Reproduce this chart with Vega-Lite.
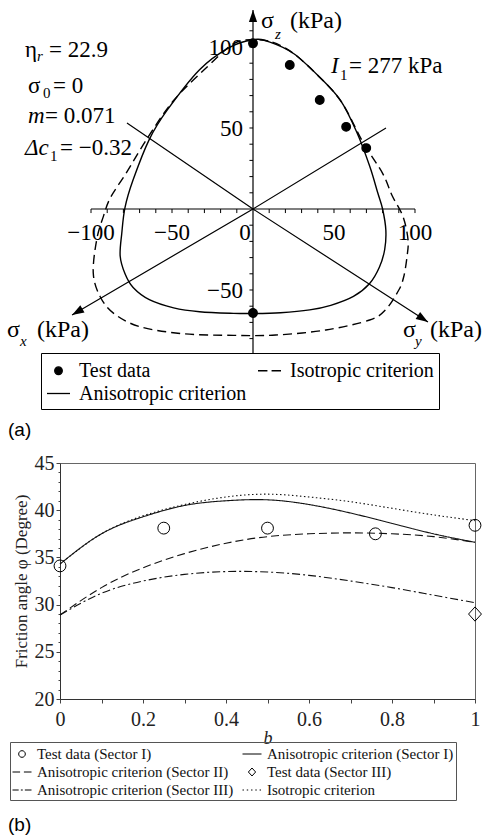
{
"$schema": "https://vega.github.io/schema/vega-lite/v6.json",
"padding": {"left": 7, "top": 0, "right": 0, "bottom": 0},
"background": "white",
"spacing": 7,
"config": {"view": {"stroke": null}, "font": "Liberation Serif", "text": {"font": "Liberation Serif"}, "legend": {"labelFont": "Liberation Serif"}},
"resolve": {"scale": {"x": "independent", "y": "independent", "shape": "independent", "strokeDash": "independent"}, "legend": {"shape": "independent", "strokeDash": "independent"}},
"datasets": {
"axesA": [{"ax":"h","i":0,"x":-100,"y":0},{"ax":"h","i":1,"x":100,"y":0},{"ax":"v","i":0,"x":0,"y":-88.9},{"ax":"v","i":1,"x":0,"y":122.8},{"ax":"sx","i":0,"x":82.1,"y":50.0},{"ax":"sx","i":1,"x":0,"y":0},{"ax":"sx","i":2,"x":-111.7,"y":-65.4},{"ax":"sy","i":0,"x":-77.8,"y":53.1},{"ax":"sy","i":1,"x":0,"y":0},{"ax":"sy","i":2,"x":108.0,"y":-69.8}],
"ticksX": [{"v":-100},{"v":-90},{"v":-80},{"v":-70},{"v":-60},{"v":-50},{"v":-40},{"v":-30},{"v":-20},{"v":-10},{"v":10},{"v":20},{"v":30},{"v":40},{"v":50},{"v":60},{"v":70},{"v":80},{"v":90},{"v":100}],
"ticksY": [{"v":-80},{"v":-70},{"v":-60},{"v":-50},{"v":-40},{"v":-30},{"v":-20},{"v":-10},{"v":10},{"v":20},{"v":30},{"v":40},{"v":50},{"v":60},{"v":70},{"v":80},{"v":90},{"v":100},{"v":110}],
"labX": [{"v":-100,"t":"−100"},{"v":-50,"t":"−50"},{"v":50,"t":"50"},{"v":100,"t":"100"}],
"labY": [{"v":100,"t":"100"},{"v":50,"t":"50"},{"v":-50,"t":"−50"}],
"anisoA": [{"i":0,"x":0,"y":104.5},{"i":1,"x":10,"y":103.2},{"i":2,"x":25,"y":96},{"i":3,"x":41,"y":81.5},{"i":4,"x":54,"y":67},{"i":5,"x":64,"y":47.5},{"i":6,"x":72,"y":26.5},{"i":7,"x":77,"y":10},{"i":8,"x":80,"y":0},{"i":9,"x":82,"y":-13},{"i":10,"x":81.3,"y":-25},{"i":11,"x":78,"y":-36},{"i":12,"x":72,"y":-46},{"i":13,"x":62,"y":-54},{"i":14,"x":48,"y":-59.5},{"i":15,"x":35,"y":-62.3},{"i":16,"x":17,"y":-64},{"i":17,"x":0,"y":-64.5},{"i":18,"x":-12,"y":-64.4},{"i":19,"x":-33,"y":-63.4},{"i":20,"x":-49,"y":-61},{"i":21,"x":-64,"y":-56},{"i":22,"x":-74,"y":-48.5},{"i":23,"x":-79,"y":-40},{"i":24,"x":-82,"y":-29},{"i":25,"x":-81,"y":-15},{"i":26,"x":-79,"y":1},{"i":27,"x":-74,"y":18},{"i":28,"x":-64,"y":43},{"i":29,"x":-53,"y":61},{"i":30,"x":-33,"y":86},{"i":31,"x":-15,"y":99.5}],
"isoA": [{"i":0,"x":0,"y":104.5},{"i":1,"x":12,"y":103},{"i":2,"x":25,"y":96},{"i":3,"x":41,"y":81.5},{"i":4,"x":55,"y":65.5},{"i":5,"x":68,"y":41},{"i":6,"x":80,"y":22},{"i":7,"x":86,"y":8},{"i":8,"x":92.6,"y":-4.7},{"i":9,"x":95.7,"y":-19},{"i":10,"x":95,"y":-30},{"i":11,"x":93,"y":-42},{"i":12,"x":90,"y":-50},{"i":13,"x":82,"y":-62},{"i":14,"x":72,"y":-68.5},{"i":15,"x":45,"y":-74.7},{"i":16,"x":14,"y":-77.8},{"i":17,"x":-12,"y":-78},{"i":18,"x":-43,"y":-77},{"i":19,"x":-70,"y":-72.6},{"i":20,"x":-86,"y":-64.4},{"i":21,"x":-94.4,"y":-54},{"i":22,"x":-98.6,"y":-39.7},{"i":23,"x":-96.5,"y":-19},{"i":24,"x":-92.4,"y":-4.7},{"i":25,"x":-88,"y":7},{"i":26,"x":-78.4,"y":22},{"i":27,"x":-65,"y":44},{"i":28,"x":-49,"y":67},{"i":29,"x":-28,"y":88},{"i":30,"x":-12,"y":102}],
"testA": [{"series":"Test data","x":0,"y":102.3},{"series":"Test data","x":22.7,"y":88.9},{"series":"Test data","x":41.2,"y":67.3},{"series":"Test data","x":57.5,"y":50.7},{"series":"Test data","x":69.9,"y":37.6},{"series":"Test data","x":0,"y":-64.2}],
"linesB": [
{"s":"Anisotropic criterion (Sector I)","b":0,"v":34.3},{"s":"Anisotropic criterion (Sector I)","b":0.1,"v":37.5},{"s":"Anisotropic criterion (Sector I)","b":0.2,"v":39.3},{"s":"Anisotropic criterion (Sector I)","b":0.3,"v":40.5},{"s":"Anisotropic criterion (Sector I)","b":0.4,"v":41.0},{"s":"Anisotropic criterion (Sector I)","b":0.5,"v":41.1},{"s":"Anisotropic criterion (Sector I)","b":0.6,"v":40.6},{"s":"Anisotropic criterion (Sector I)","b":0.7,"v":39.7},{"s":"Anisotropic criterion (Sector I)","b":0.8,"v":38.6},{"s":"Anisotropic criterion (Sector I)","b":0.9,"v":37.5},{"s":"Anisotropic criterion (Sector I)","b":1,"v":36.6},
{"s":"Anisotropic criterion (Sector II)","b":0,"v":28.9},{"s":"Anisotropic criterion (Sector II)","b":0.1,"v":31.8},{"s":"Anisotropic criterion (Sector II)","b":0.2,"v":33.9},{"s":"Anisotropic criterion (Sector II)","b":0.3,"v":35.4},{"s":"Anisotropic criterion (Sector II)","b":0.4,"v":36.5},{"s":"Anisotropic criterion (Sector II)","b":0.5,"v":37.2},{"s":"Anisotropic criterion (Sector II)","b":0.6,"v":37.5},{"s":"Anisotropic criterion (Sector II)","b":0.7,"v":37.6},{"s":"Anisotropic criterion (Sector II)","b":0.8,"v":37.5},{"s":"Anisotropic criterion (Sector II)","b":0.9,"v":37.2},{"s":"Anisotropic criterion (Sector II)","b":1,"v":36.6},
{"s":"Anisotropic criterion (Sector III)","b":0,"v":28.9},{"s":"Anisotropic criterion (Sector III)","b":0.1,"v":31.2},{"s":"Anisotropic criterion (Sector III)","b":0.2,"v":32.5},{"s":"Anisotropic criterion (Sector III)","b":0.3,"v":33.2},{"s":"Anisotropic criterion (Sector III)","b":0.4,"v":33.5},{"s":"Anisotropic criterion (Sector III)","b":0.5,"v":33.45},{"s":"Anisotropic criterion (Sector III)","b":0.6,"v":33.1},{"s":"Anisotropic criterion (Sector III)","b":0.7,"v":32.5},{"s":"Anisotropic criterion (Sector III)","b":0.8,"v":31.8},{"s":"Anisotropic criterion (Sector III)","b":0.9,"v":31.0},{"s":"Anisotropic criterion (Sector III)","b":1,"v":30.2},
{"s":"Isotropic criterion","b":0,"v":34.3},{"s":"Isotropic criterion","b":0.1,"v":37.5},{"s":"Isotropic criterion","b":0.2,"v":39.4},{"s":"Isotropic criterion","b":0.3,"v":40.6},{"s":"Isotropic criterion","b":0.4,"v":41.4},{"s":"Isotropic criterion","b":0.5,"v":41.7},{"s":"Isotropic criterion","b":0.6,"v":41.4},{"s":"Isotropic criterion","b":0.7,"v":40.9},{"s":"Isotropic criterion","b":0.8,"v":40.2},{"s":"Isotropic criterion","b":0.9,"v":39.5},{"s":"Isotropic criterion","b":1,"v":38.9}],
"testB": [{"s":"Test data (Sector I)","b":0,"v":34.1},{"s":"Test data (Sector I)","b":0.25,"v":38.1},{"s":"Test data (Sector I)","b":0.5,"v":38.1},{"s":"Test data (Sector I)","b":0.76,"v":37.5},{"s":"Test data (Sector I)","b":1,"v":38.4},{"s":"Test data (Sector III)","b":1,"v":29.0}]
},
"vconcat": [
{
"width": 426, "height": 445, "view": {"stroke": null},
"layer": [
{"data": {"name": "axesA"}, "mark": {"type": "line", "color": "black", "strokeWidth": 1.2},
 "encoding": {"x": {"field": "x", "type": "quantitative", "scale": {"domain": [-119.14, 143.83], "nice": false, "zero": false}, "axis": null},
  "y": {"field": "y", "type": "quantitative", "scale": {"domain": [-145.68, 129.01], "nice": false, "zero": false}, "axis": null},
  "detail": {"field": "ax"}, "order": {"field": "i", "type": "quantitative"}}},
{"data": {"name": "ticksX"}, "mark": {"type": "rule", "color": "black", "strokeWidth": 1},
 "encoding": {"x": {"field": "v", "type": "quantitative", "scale": {"domain": [-119.14, 143.83], "nice": false, "zero": false}, "axis": null},
  "y": {"datum": 0, "type": "quantitative", "scale": {"domain": [-145.68, 129.01], "nice": false, "zero": false}, "axis": null}, "y2": {"datum": -2.5}}},
{"data": {"name": "ticksY"}, "mark": {"type": "rule", "color": "black", "strokeWidth": 1},
 "encoding": {"y": {"field": "v", "type": "quantitative", "scale": {"domain": [-145.68, 129.01], "nice": false, "zero": false}, "axis": null},
  "x": {"datum": -2.2, "type": "quantitative", "scale": {"domain": [-119.14, 143.83], "nice": false, "zero": false}, "axis": null}, "x2": {"datum": 0}}},
{"data": {"name": "labX"}, "mark": {"type": "text", "font": "Liberation Serif", "fontSize": 23, "baseline": "alphabetic", "align": "center", "color": "black"},
 "encoding": {"x": {"field": "v", "type": "quantitative", "scale": {"domain": [-119.14, 143.83], "nice": false, "zero": false}, "axis": null},
  "y": {"datum": -19.14, "type": "quantitative", "scale": {"domain": [-145.68, 129.01], "nice": false, "zero": false}, "axis": null}, "text": {"field": "t"}}},
{"data": {"name": "labY"}, "mark": {"type": "text", "font": "Liberation Serif", "fontSize": 23, "baseline": "alphabetic", "align": "right", "dy": 8, "color": "black"},
 "encoding": {"y": {"field": "v", "type": "quantitative", "scale": {"domain": [-145.68, 129.01], "nice": false, "zero": false}, "axis": null},
  "x": {"datum": -6.17, "type": "quantitative", "scale": {"domain": [-119.14, 143.83], "nice": false, "zero": false}, "axis": null}, "text": {"field": "t"}}},
{"data": {"values": [{}]}, "mark": {"type": "text", "text": "0", "font": "Liberation Serif", "fontSize": 23, "baseline": "alphabetic", "align": "center", "color": "black"},
 "encoding": {"x": {"datum": -4.94, "type": "quantitative", "scale": {"domain": [-119.14, 143.83], "nice": false, "zero": false}, "axis": null},
  "y": {"datum": -19.14, "type": "quantitative", "scale": {"domain": [-145.68, 129.01], "nice": false, "zero": false}, "axis": null}}},
{"data": {"name": "isoA"}, "mark": {"type": "line", "color": "black", "strokeWidth": 1.4, "strokeDash": [9, 5], "interpolate": "cardinal-closed"},
 "encoding": {"x": {"field": "x", "type": "quantitative", "scale": {"domain": [-119.14, 143.83], "nice": false, "zero": false}, "axis": null},
  "y": {"field": "y", "type": "quantitative", "scale": {"domain": [-145.68, 129.01], "nice": false, "zero": false}, "axis": null},
  "order": {"field": "i", "type": "quantitative"}}},
{"data": {"name": "anisoA"}, "mark": {"type": "line", "color": "black", "strokeWidth": 1.4, "interpolate": "cardinal-closed"},
 "encoding": {"x": {"field": "x", "type": "quantitative", "scale": {"domain": [-119.14, 143.83], "nice": false, "zero": false}, "axis": null},
  "y": {"field": "y", "type": "quantitative", "scale": {"domain": [-145.68, 129.01], "nice": false, "zero": false}, "axis": null},
  "order": {"field": "i", "type": "quantitative"}}},
{"data": {"name": "testA"}, "mark": {"type": "point", "filled": false, "fill": "black", "color": "black", "strokeWidth": 1.3, "opacity": 1, "size": 676},
 "encoding": {"x": {"field": "x", "type": "quantitative", "scale": {"domain": [-119.14, 143.83], "nice": false, "zero": false}, "axis": null},
  "y": {"field": "y", "type": "quantitative", "scale": {"domain": [-145.68, 129.01], "nice": false, "zero": false}, "axis": null},
  "shape": {"field": "series", "type": "nominal",
   "scale": {"domain": ["Test data", "Anisotropic criterion", "Isotropic criterion"], "range": ["M-0.33,0A0.33,0.33 0 1,1 0.33,0A0.33,0.33 0 1,1 -0.33,0Z", "M-1,0H1", "M-1,0H-0.18M0.18,0H1"]},
   "legend": {"title": null, "orient": "none", "legendX": -19, "legendY": 353, "columns": 2, "labelFont": "Liberation Serif", "labelFontSize": 20, "labelColor": "black", "labelLimit": 400, "symbolSize": 529, "symbolStrokeWidth": 1.3, "labelOffset": 8, "padding": 5, "rowPadding": 0, "columnPadding": 8, "strokeColor": "black", "gridAlign": "each"}}}},
{"data": {"values": [{}]}, "mark": {"type": "point", "shape": "M0,0L-0.55,1.6L0.55,1.6Z", "size": 225, "filled": true, "color": "black", "opacity": 1, "angle": 0},
 "encoding": {"x": {"datum": 0, "type": "quantitative", "scale": {"domain": [-119.14, 143.83], "nice": false, "zero": false}, "axis": null},
  "y": {"datum": 122.8, "type": "quantitative", "scale": {"domain": [-145.68, 129.01], "nice": false, "zero": false}, "axis": null}}},
{"data": {"values": [{}]}, "mark": {"type": "point", "shape": "M0,0L-0.55,1.6L0.55,1.6Z", "size": 225, "filled": true, "color": "black", "opacity": 1, "angle": 239.7},
 "encoding": {"x": {"datum": -111.7, "type": "quantitative", "scale": {"domain": [-119.14, 143.83], "nice": false, "zero": false}, "axis": null},
  "y": {"datum": -65.4, "type": "quantitative", "scale": {"domain": [-145.68, 129.01], "nice": false, "zero": false}, "axis": null}}},
{"data": {"values": [{}]}, "mark": {"type": "point", "shape": "M0,0L-0.55,1.6L0.55,1.6Z", "size": 225, "filled": true, "color": "black", "opacity": 1, "angle": 122.9},
 "encoding": {"x": {"datum": 108.0, "type": "quantitative", "scale": {"domain": [-119.14, 143.83], "nice": false, "zero": false}, "axis": null},
  "y": {"datum": -69.8, "type": "quantitative", "scale": {"domain": [-145.68, 129.01], "nice": false, "zero": false}, "axis": null}}},
{"data": {"values": [{"t": "η", "x": -140.74, "y": 93.83}, {"t": "= 22.9", "x": -125.93, "y": 93.83}, {"t": "σ", "x": -138.89, "y": 71.6}, {"t": "= 0", "x": -123.46, "y": 71.6}, {"t": "= 0.071", "x": -128.4, "y": 53.09}, {"t": "= −0.32", "x": -119.14, "y": 33.33}, {"t": "= 277 kPa", "x": 59.26, "y": 83.95}]},
 "mark": {"type": "text", "font": "Liberation Serif", "fontSize": 23, "align": "left", "baseline": "alphabetic", "color": "black"},
 "encoding": {"x": {"field": "x", "type": "quantitative", "scale": {"domain": [-119.14, 143.83], "nice": false, "zero": false}, "axis": null},
  "y": {"field": "y", "type": "quantitative", "scale": {"domain": [-145.68, 129.01], "nice": false, "zero": false}, "axis": null}, "text": {"field": "t"}}},
{"data": {"values": [{"t": "m", "x": -138.89, "y": 53.09}, {"t": "Δc", "x": -140.74, "y": 33.33}, {"t": "I", "x": 48.15, "y": 83.95}]},
 "mark": {"type": "text", "font": "Liberation Serif", "fontSize": 23, "fontStyle": "italic", "align": "left", "baseline": "alphabetic", "color": "black"},
 "encoding": {"x": {"field": "x", "type": "quantitative", "scale": {"domain": [-119.14, 143.83], "nice": false, "zero": false}, "axis": null},
  "y": {"field": "y", "type": "quantitative", "scale": {"domain": [-145.68, 129.01], "nice": false, "zero": false}, "axis": null}, "text": {"field": "t"}}},
{"data": {"values": [{"t": "0", "x": -129.63, "y": 68.52}, {"t": "1", "x": -125.31, "y": 29.63}, {"t": "1", "x": 53.7, "y": 79.63}]},
 "mark": {"type": "text", "font": "Liberation Serif", "fontSize": 15, "align": "left", "baseline": "alphabetic", "color": "black"},
 "encoding": {"x": {"field": "x", "type": "quantitative", "scale": {"domain": [-119.14, 143.83], "nice": false, "zero": false}, "axis": null},
  "y": {"field": "y", "type": "quantitative", "scale": {"domain": [-145.68, 129.01], "nice": false, "zero": false}, "axis": null}, "text": {"field": "t"}}},
{"data": {"values": [{"t": "r", "x": -133.33, "y": 91.36}, {"t": "z", "x": 13.58, "y": 104.94}, {"t": "x", "x": -143.83, "y": -84.57}, {"t": "y", "x": 100.0, "y": -84.57}]},
 "mark": {"type": "text", "font": "Liberation Serif", "fontSize": 15, "fontStyle": "italic", "align": "left", "baseline": "alphabetic", "color": "black"},
 "encoding": {"x": {"field": "x", "type": "quantitative", "scale": {"domain": [-119.14, 143.83], "nice": false, "zero": false}, "axis": null},
  "y": {"field": "y", "type": "quantitative", "scale": {"domain": [-145.68, 129.01], "nice": false, "zero": false}, "axis": null}, "text": {"field": "t"}}},
{"data": {"values": [{"t": "σ", "x": 4.94, "y": 111.73}, {"t": "(kPa)", "x": 22.84, "y": 111.73}, {"t": "σ", "x": -151.85, "y": -79.01}, {"t": "(kPa)", "x": -133.33, "y": -79.01}, {"t": "σ", "x": 92.59, "y": -79.01}, {"t": "(kPa)", "x": 109.26, "y": -79.01}]},
 "mark": {"type": "text", "font": "Liberation Serif", "fontSize": 24, "align": "left", "baseline": "alphabetic", "color": "black"},
 "encoding": {"x": {"field": "x", "type": "quantitative", "scale": {"domain": [-119.14, 143.83], "nice": false, "zero": false}, "axis": null},
  "y": {"field": "y", "type": "quantitative", "scale": {"domain": [-145.68, 129.01], "nice": false, "zero": false}, "axis": null}, "text": {"field": "t"}}},
{"data": {"values": [{}]}, "mark": {"type": "text", "text": "(a)", "font": "Liberation Sans", "fontSize": 19, "align": "left", "baseline": "alphabetic", "color": "black"},
 "encoding": {"x": {"datum": -151.23, "type": "quantitative", "scale": {"domain": [-119.14, 143.83], "nice": false, "zero": false}, "axis": null},
  "y": {"datum": -140.12, "type": "quantitative", "scale": {"domain": [-145.68, 129.01], "nice": false, "zero": false}, "axis": null}}}
]
},
{
"width": 415, "height": 236, "view": {"stroke": "#666", "strokeWidth": 1},
"resolve": {"axis": {"x": "independent", "y": "independent"}},
"layer": [
{"data": {"name": "linesB"}, "mark": {"type": "line", "color": "#111", "strokeWidth": 1.1, "interpolate": "natural"},
 "encoding": {"x": {"field": "b", "type": "quantitative", "scale": {"domain": [0, 1], "nice": false, "zero": false}, "axis": null},
  "y": {"field": "v", "type": "quantitative", "scale": {"domain": [20, 45], "nice": false, "zero": false},
   "axis": {"orient": "left", "values": [21,22,23,24,26,27,28,29,31,32,33,34,36,37,38,39,41,42,43,44], "tickSize": 2, "labels": false, "domain": false, "title": null, "grid": false, "tickColor": "#444"}},
  "strokeDash": {"field": "s", "type": "nominal", "scale": {"domain": ["Anisotropic criterion (Sector I)", "Anisotropic criterion (Sector II)", "Anisotropic criterion (Sector III)", "Isotropic criterion"], "range": [[1, 0], [8, 4], [8, 3, 2, 3], [1.5, 2.5]]}, "legend": null}}},
{"data": {"name": "testB"}, "mark": {"type": "point", "filled": false, "color": "black", "strokeWidth": 1, "opacity": 1, "size": 1150},
 "encoding": {"x": {"field": "b", "type": "quantitative", "scale": {"domain": [0, 1], "nice": false, "zero": false},
   "axis": {"orient": "bottom", "values": [0,0.1,0.2,0.3,0.4,0.5,0.6,0.7,0.8,0.9,1], "labelExpr": "datum.value == 0 ? '0' : datum.value == 1 ? '1' : (round(datum.value * 10) % 2 == 0 ? format(datum.value, '.1f') : '')", "title": "b", "titleFont": "Liberation Serif", "titleFontStyle": "italic", "titleFontWeight": "normal", "titleFontSize": 18, "titleColor": "#222", "titlePadding": 0, "labelFont": "Liberation Serif", "labelFontSize": 20, "labelColor": "#222", "labelPadding": 6, "labelFlush": false, "labelOverlap": false, "tickSize": 4, "tickColor": "#444", "domainColor": "#333", "grid": false}},
  "y": {"field": "v", "type": "quantitative", "scale": {"domain": [20, 45], "nice": false, "zero": false},
   "axis": {"orient": "left", "values": [20,25,30,35,40,45], "title": "Friction angle φ (Degree)", "titleFont": "Liberation Serif", "titleFontWeight": "normal", "titleFontSize": 17, "titleColor": "#222", "titlePadding": 4, "labelFont": "Liberation Serif", "labelFontSize": 20, "labelColor": "#222", "labelPadding": 2, "labelFlush": false, "tickSize": 4, "tickColor": "#444", "domainColor": "#333", "grid": false}},
  "shape": {"field": "s", "type": "nominal",
   "scale": {"domain": ["Test data (Sector I)", "Anisotropic criterion (Sector II)", "Anisotropic criterion (Sector III)", "Anisotropic criterion (Sector I)", "Test data (Sector III)", "Isotropic criterion"],
    "range": ["M-0.35,0A0.35,0.35 0 1,1 0.35,0A0.35,0.35 0 1,1 -0.35,0Z", "M-1,0H-0.2M0.2,0H1", "M-1,0H-0.35M-0.12,0H0.08M0.3,0H1", "M-1,0H1", "M0,-0.42L0.38,0L0,0.42L-0.38,0Z", "M-1,0H-0.85M-0.55,0H-0.4M-0.1,0H0.05M0.35,0H0.5M0.8,0H0.95"]},
   "legend": {"title": null, "orient": "none", "legendX": -50, "legendY": 279, "columns": 2, "labelFont": "Liberation Serif", "labelFontSize": 15, "labelColor": "#111", "labelLimit": 400, "symbolSize": 361, "symbolStrokeWidth": 1, "labelOffset": 5, "padding": 2, "rowPadding": 0, "columnPadding": 6, "strokeColor": "#555", "gridAlign": "each"}}}},
{"data": {"values": [{}]}, "mark": {"type": "text", "text": "(b)", "font": "Liberation Sans", "fontSize": 19, "align": "left", "baseline": "alphabetic", "color": "black"},
 "encoding": {"x": {"datum": -0.1253, "type": "quantitative", "scale": {"domain": [0, 1], "nice": false, "zero": false}, "axis": null},
  "y": {"datum": 6.02, "type": "quantitative", "scale": {"domain": [20, 45], "nice": false, "zero": false}, "axis": null}}}
]
}
]
}
